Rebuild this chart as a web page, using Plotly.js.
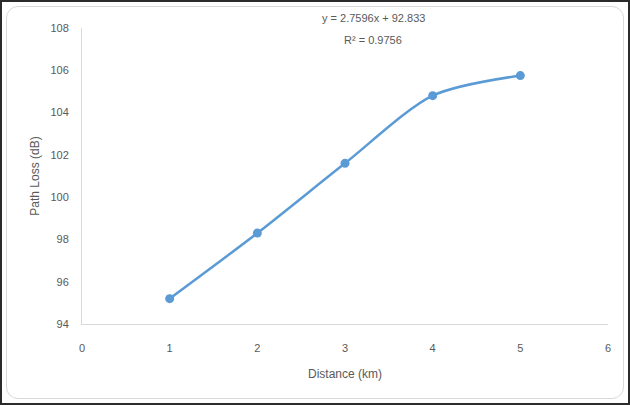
<!DOCTYPE html>
<html>
<head>
<meta charset="utf-8">
<script src="https://cdn.plot.ly/plotly-3.0.1.min.js"></script>
<style>
  html, body { margin: 0; padding: 0; background: #fff; }
  #wrap { position: relative; width: 630px; height: 405px; overflow: hidden; }
  #chart { position: absolute; left: 0; top: 0; width: 630px; height: 405px; }
  #outer { position: absolute; left: 0; top: 0; width: 630px; height: 405px; box-sizing: border-box; border: 2px solid #2b2b2b; pointer-events: none; }
  #inner { position: absolute; left: 6px; top: 6px; width: 618px; height: 393px; box-sizing: border-box; border: 1px solid #d9d9d9; border-radius: 12px; pointer-events: none; }
</style>
</head>
<body>
<div id="wrap">
  <div id="chart"></div>
  <div id="inner"></div>
  <div id="outer"></div>
</div>
<script>
const distance = [1, 2, 3, 4, 5];
const pathLoss = [95.2, 98.3, 101.6, 104.8, 105.75];
const trendText = ['y = 2.7596x + 92.833', 'R² = 0.9756'];
const xTicks = [0, 1, 2, 3, 4, 5, 6];
const yTicks = [94, 96, 98, 100, 102, 104, 106, 108];

const font = "'Liberation Sans', Arial, sans-serif";
const grey = '#595959';

const trace = {
  x: distance,
  y: pathLoss,
  type: 'scatter',
  mode: 'lines+markers',
  line: { color: '#5B9BD5', width: 2.5, shape: 'spline', smoothing: 0.8 },
  marker: { color: '#5B9BD5', size: 9 },
  hoverinfo: 'skip'
};

const layout = {
  width: 630,
  height: 405,
  margin: { l: 82, r: 22, t: 28, b: 81 },
  paper_bgcolor: 'rgba(0,0,0,0)',
  plot_bgcolor: 'rgba(0,0,0,0)',
  showlegend: false,
  font: { family: font, color: grey, size: 11 },
  xaxis: {
    range: [0, 6],
    tickvals: xTicks,
    ticktext: xTicks.map(String),
    showgrid: false,
    zeroline: false,
    showline: true,
    linecolor: '#d9d9d9',
    linewidth: 1,
    ticks: 'outside',
    ticklen: 14,
    tickcolor: 'rgba(0,0,0,0)',
    tickfont: { family: font, size: 11, color: grey },
    title: { text: 'Distance (km)', font: { family: font, size: 12, color: grey }, standoff: 16 }
  },
  yaxis: {
    range: [94, 108],
    tickvals: yTicks,
    ticktext: yTicks.map(String),
    showgrid: false,
    zeroline: false,
    showline: true,
    linecolor: '#d9d9d9',
    linewidth: 1,
    ticks: 'outside',
    ticklen: 10,
    tickcolor: 'rgba(0,0,0,0)',
    tickfont: { family: font, size: 11, color: grey },
    title: { text: 'Path Loss (dB)', font: { family: font, size: 12, color: grey }, standoff: 8 }
  },
  annotations: [
    {
      x: 3.32, xref: 'x', y: 1, yref: 'paper', yanchor: 'middle', yshift: 10,
      text: trendText[0],
      showarrow: false,
      font: { family: font, size: 11, color: grey }
    },
    {
      x: 3.32, xref: 'x', y: 1, yref: 'paper', yanchor: 'middle', yshift: -12,
      text: trendText[1],
      showarrow: false,
      font: { family: font, size: 11, color: grey }
    }
  ]
};

Plotly.newPlot('chart', [trace], layout, { staticPlot: true, displayModeBar: false });
</script>
</body>
</html>
